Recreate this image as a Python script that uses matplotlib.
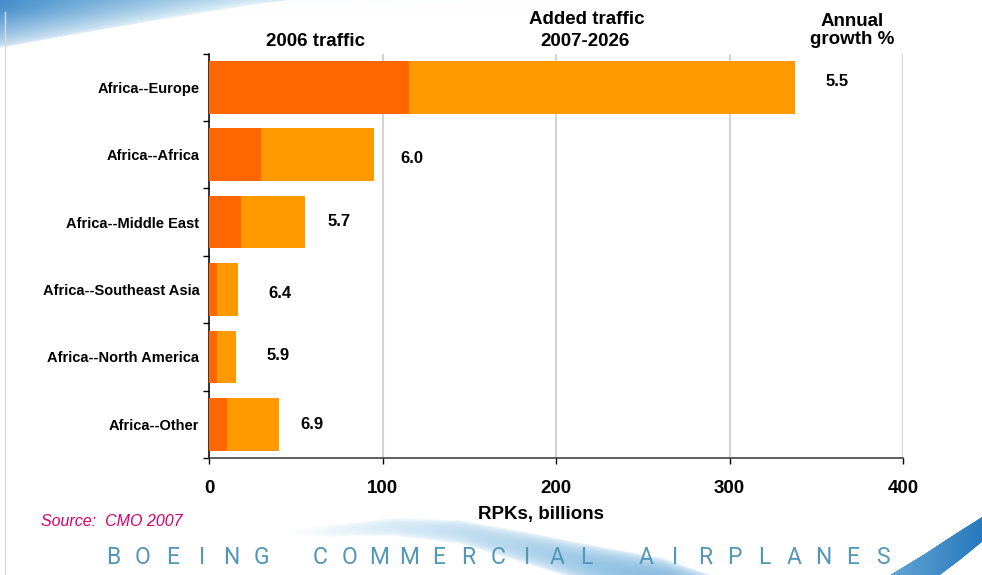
import numpy as np
import matplotlib
matplotlib.use("Agg")
import matplotlib.pyplot as plt
from matplotlib.colors import to_rgb

plt.rcParams['font.family'] = ['Liberation Sans', 'DejaVu Sans']

# ---------------- data ----------------
categories = ["Africa--Europe", "Africa--Africa", "Africa--Middle East",
              "Africa--Southeast Asia", "Africa--North America", "Africa--Other"]
traffic_2006 = [115, 30, 18, 4.5, 4.5, 10]
added_traffic = [223, 65, 37, 12, 11, 30]
growth_pct = ["5.5", "6.0", "5.7", "6.4", "5.9", "6.9"]
x_ticks = [0, 100, 200, 300, 400]

# label placement (style): gap after bar end in data units, vertical shift in px
label_gap = [24, 22, 20, 24, 24, 19]
label_dy_px = [-7, 2, -2, 3, -3, -1]

W, H = 982, 575
fig = plt.figure(figsize=(W / 100, H / 100), dpi=100)


def fx(px):
    return px / W


def fy(py):
    return 1 - py / H


# ---------------- decorative background ----------------
yy, xx = np.mgrid[0:H, 0:W].astype(float) + 0.5
img = np.ones((H, W, 3))


def comp(alpha, col):
    global img
    a = np.clip(alpha, 0, 1)[..., None]
    img = img * (1 - a) + col * a


def blend(c1, c2, t):
    c1 = np.array(to_rgb(c1)); c2 = np.array(to_rgb(c2))
    t = np.clip(t, 0, 1)[..., None]
    return c1 * (1 - t) + c2 * t


# top-left swoosh
yb = 48 * np.clip(1 - xx / 290, 0, 1) ** 1.1
a1 = np.clip(1 - yy / np.maximum(yb, 1e-3), 0, 1) ** 0.3
comp(a1, blend('#2A7EC3', '#D2EAF6', xx / 260 + yy / 90))
a2 = 0.15 * np.clip(1 - yy / 12, 0, 1) * np.clip(1 - xx / 560, 0, 1)
comp(a2, np.array(to_rgb('#CFE6F3')))

# light bottom band
bx = [290, 330, 393, 460, 527, 593, 663, 720]
bup = [530, 525, 518, 520, 532, 545, 558, 578]
bh = [3, 6, 9, 12, 16, 20, 22, 22]
bamp = [0, 0.25, 0.45, 0.6, 0.7, 0.8, 0.85, 0.85]
h = np.interp(xx, bx, bh)
c = np.interp(xx, bx, bup) + h
amp = np.interp(xx, bx, bamp, left=0, right=0)
d = (yy - c) / np.maximum(h, 1e-3)
a3 = amp * np.clip(1 - d ** 2, 0, 1) ** 0.6
comp(a3, blend('#B2D8EE', '#6AAAD8', (xx - 330) / 380))

# dark bottom-right band
ly = [500, 517, 532, 553, 575, 580]
lx = [1000, 982, 958, 926, 890, 882]
ry = [500, 542, 560, 575, 580]
rx = [1015, 982, 960, 940, 934]
xl = np.interp(yy, ly, lx)
xr = np.interp(yy, ry, rx)
a4 = np.clip(xx - xl + 0.5, 0, 1) * np.clip(xr - xx + 0.5, 0, 1) * (yy > 500)
comp(a4, blend('#2779BD', '#68A9D8', (982 - xx) / 100))

bg = fig.add_axes([0, 0, 1, 1], zorder=-10)
bg.imshow(img, extent=(0, W, H, 0), interpolation='bilinear', aspect='auto')
bg.plot([5.5, 5.5], [12, H], color='#D9D9D9', lw=1)
bg.set_xlim(0, W)
bg.set_ylim(H, 0)
bg.axis('off')

# ---------------- chart ----------------
ax = fig.add_axes([fx(209.3), fy(458), (903 - 209.3) / W, (458 - 53.6) / H])
ax.patch.set_alpha(0)
y = np.arange(len(categories))
ax.barh(y, traffic_2006, height=0.78, color='#FF6600', zorder=3)
ax.barh(y, added_traffic, left=traffic_2006, height=0.78, color='#FF9900', zorder=3)
totals = np.add(traffic_2006, added_traffic)
px_per_row = (458 - 53.6) / len(categories)
for yi, tot, g, gap, dy in zip(y, totals, growth_pct, label_gap, label_dy_px):
    ax.text(tot + gap, yi + dy / px_per_row, g, ha='center', va='center_baseline',
            fontsize=12, fontweight='bold', zorder=4)

ax.set_xlim(x_ticks[0], x_ticks[-1])
ax.set_ylim(len(categories) - 0.5, -0.5)
ax.set_xticks(x_ticks)
ax.set_xticklabels([str(t) for t in x_ticks], fontsize=13.5, fontweight='bold')
ax.tick_params(axis='x', direction='out', length=4.5, width=1, pad=11)
ax.set_yticks(np.arange(-0.5, len(categories), 1))
ax.set_yticklabels([])
ax.set_yticks(y, minor=True)
ax.set_yticklabels(categories, minor=True, fontsize=10.5, fontweight='bold')
ax.tick_params(axis='y', which='major', length=4.5, width=1, direction='out')
ax.tick_params(axis='y', which='minor', length=0, pad=7.2)
ax.grid(axis='x', color='#D4D4D4', lw=1.5, zorder=0)
ax.set_axisbelow(True)
for s in ['top', 'right']:
    ax.spines[s].set_visible(False)
ax.spines['left'].set_color('black')
ax.spines['left'].set_linewidth(1.1)
ax.spines['bottom'].set_color('#333333')
ax.spines['bottom'].set_linewidth(1.1)

# ---------------- texts ----------------
hdr = dict(ha='center', va='center', fontsize=13.5, fontweight='bold')
fig.text(fx(316), fy(41), "2006 traffic", **hdr)
fig.text(fx(587), fy(20), "Added traffic", **hdr)
fig.text(fx(585), fy(41), "2007-2026", **hdr)
fig.text(fx(852), fy(21), "Annual", **hdr)
fig.text(fx(852), fy(40), "growth %", **hdr)
fig.text(fx(541), fy(514), "RPKs, billions", **hdr)
fig.text(fx(41), fy(521), "Source:  CMO 2007", ha='left', va='center',
         fontsize=11.5, style='italic', color='#D4006C')

brand = "BOEING COMMERCIAL AIRPLANES"
for i, ch in enumerate(brand):
    if ch == ' ':
        continue
    fig.text(fx(113 + i * 29.6), fy(557), ch, ha='center', va='center',
             fontsize=16.5, color='#5296B8', family=['Roboto', 'DejaVu Sans'],
             fontweight='normal')

fig.savefig("out.png", dpi=100)
